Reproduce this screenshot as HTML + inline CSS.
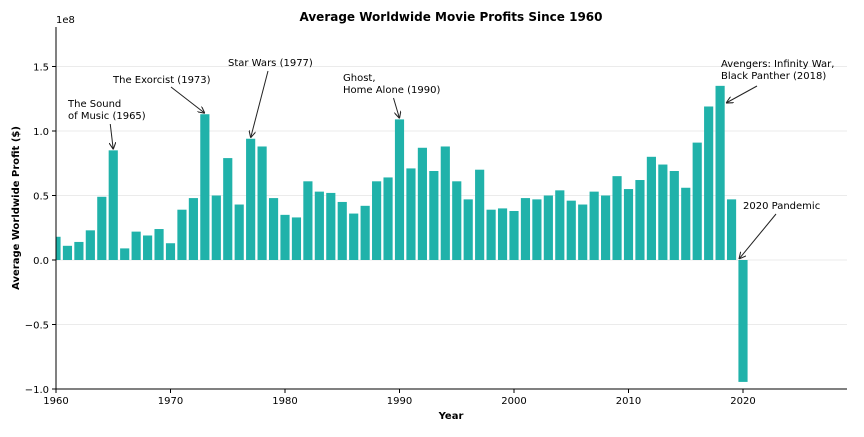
<!DOCTYPE html>
<html><head><meta charset="utf-8"><style>
body{margin:0;background:#fff}
svg{font-family:"DejaVu Sans","Liberation Sans",sans-serif}
</style></head><body>
<svg id="chart" width="864" height="432" xmlns="http://www.w3.org/2000/svg">
<defs><marker id="ah" viewBox="0 0 10 10" refX="10" refY="5" markerWidth="7" markerHeight="7" orient="auto-start-reverse"><path d="M0,0 L10,5 L0,10" fill="none" stroke="#222" stroke-width="1.5"/></marker></defs>
<g id="grid"></g><g id="bars"></g><g id="axes"></g><g id="ann"></g>
</svg>
<script>
const years=[];for(let y=1960;y<=2020;y++)years.push(y);
const profits=[0.18,0.11,0.14,0.23,0.49,0.85,0.09,0.22,0.19,0.24,0.13,0.39,0.48,1.13,0.50,0.79,0.43,0.94,0.88,0.48,0.35,0.33,0.61,0.53,0.52,0.45,0.36,0.42,0.61,0.64,1.09,0.71,0.87,0.69,0.88,0.61,0.47,0.70,0.39,0.40,0.38,0.48,0.47,0.50,0.54,0.46,0.43,0.53,0.50,0.65,0.55,0.62,0.80,0.74,0.69,0.56,0.91,1.19,1.35,0.47,-0.945];
const yTicks=[1.5,1.0,0.5,0.0,-0.5,-1.0];
const yTickLabels=["1.5","1.0","0.5","0.0","\u22120.5","\u22121.0"];
const xTicks=[1960,1970,1980,1990,2000,2010,2020];
const annotations=[
 {year:1965,text:["The Sound","of Music (1965)"],tx:68,ty:107},
 {year:1973,text:["The Exorcist (1973)"],tx:113,ty:83},
 {year:1977,text:["Star Wars (1977)"],tx:228,ty:66},
 {year:1990,text:["Ghost,","Home Alone (1990)"],tx:343,ty:81},
 {year:2018,text:["Avengers: Infinity War,","Black Panther (2018)"],tx:721,ty:67},
 {year:2020,text:["2020 Pandemic"],tx:743,ty:209}
];
const L=56,R=847,T=27,B=389,NS="http://www.w3.org/2000/svg";
const X=y=>L+(y-1960)*(743-L)/60;
const Y=v=>260-v*129;
function mk(tag,attrs,parent,txt){const e=document.createElementNS(NS,tag);for(const k in attrs)e.setAttribute(k,attrs[k]);if(txt!=null)e.textContent=txt;parent.appendChild(e);return e;}
const g=document.getElementById('grid'),b=document.getElementById('bars'),a=document.getElementById('axes'),an=document.getElementById('ann');
const clip=mk('clipPath',{id:'pc'},document.querySelector('defs'));mk('rect',{x:L,y:T,width:R-L,height:B-T},clip);
b.setAttribute('clip-path','url(#pc)');
yTicks.forEach((t,i)=>{
 const gl=mk('line',{x1:L,x2:R,y1:Y(t),y2:Y(t),stroke:'#ebebeb','stroke-width':1},g);
 
 mk('line',{x1:L-4,x2:L,y1:Y(t),y2:Y(t),stroke:'#000'},a);
 const tl=mk('text',{x:L-7,y:Y(t)+4,'font-size':10,'text-anchor':'end',fill:'#000'},a,yTickLabels[i]);
 
});
const bw=0.8*(743-L)/60;
years.forEach((yr,i)=>{
 const v=profits[i];
 const r=mk('rect',{x:X(yr)-bw/2,y:Math.min(Y(v),Y(0)),width:bw,height:Math.abs(Y(v)-Y(0)),fill:'#20b2aa'},b);
 
});
mk('line',{x1:L,x2:L,y1:T,y2:B,stroke:'#000','stroke-width':1},a);
mk('line',{x1:L,x2:R,y1:B,y2:B,stroke:'#000','stroke-width':1},a);
xTicks.forEach(t=>{
 mk('line',{x1:X(t),x2:X(t),y1:B,y2:B+4,stroke:'#000'},a);
 const tl=mk('text',{x:X(t),y:B+15,'font-size':10,'text-anchor':'middle'},a,t);
 
});
const e8=mk('text',{x:L,y:23,'font-size':10},a,'1e8');
const ti=mk('text',{x:451,y:21,'font-size':12,'font-weight':'bold','text-anchor':'middle'},a,'Average Worldwide Movie Profits Since 1960');

const xt=mk('text',{x:451,y:419,'font-size':10,'font-weight':'bold','text-anchor':'middle'},a,'Year');

const yt=mk('text',{x:19,y:208,'font-size':10,'font-weight':'bold','text-anchor':'middle',transform:'rotate(-90 19 208)'},a,'Average Worldwide Profit ($)');

annotations.forEach(o=>{
 const i=years.indexOf(o.year),v=profits[i];
 const grp=mk('g',{},an);
 
 o.text.forEach((s,k)=>mk('text',{x:o.tx,y:o.ty+k*12,'font-size':10},grp,s));
 const n=o.text.length;
 let sx,sy,tx=X(o.year),ty=Y(v)-1;
 if(o.year===2018){sx=757;sy=86;tx=X(o.year)+6;ty=103;}
 else if(o.year===2020){sx=776;sy=214;tx=X(o.year)-4;ty=Y(0)-1;}
 else if(o.year===1973){sx=o.tx+58;sy=o.ty+4;}
 else if(o.year===1977){sx=o.tx+40;sy=o.ty+5;}
 else{sx=o.year===1965?X(o.year)-3:X(o.year)-6;sy=o.ty+(n-1)*12+5;}
 mk('line',{x1:sx,y1:sy,x2:tx,y2:ty,stroke:'#222','stroke-width':1,'marker-end':'url(#ah)'},grp);
});
</script>
</body></html>
